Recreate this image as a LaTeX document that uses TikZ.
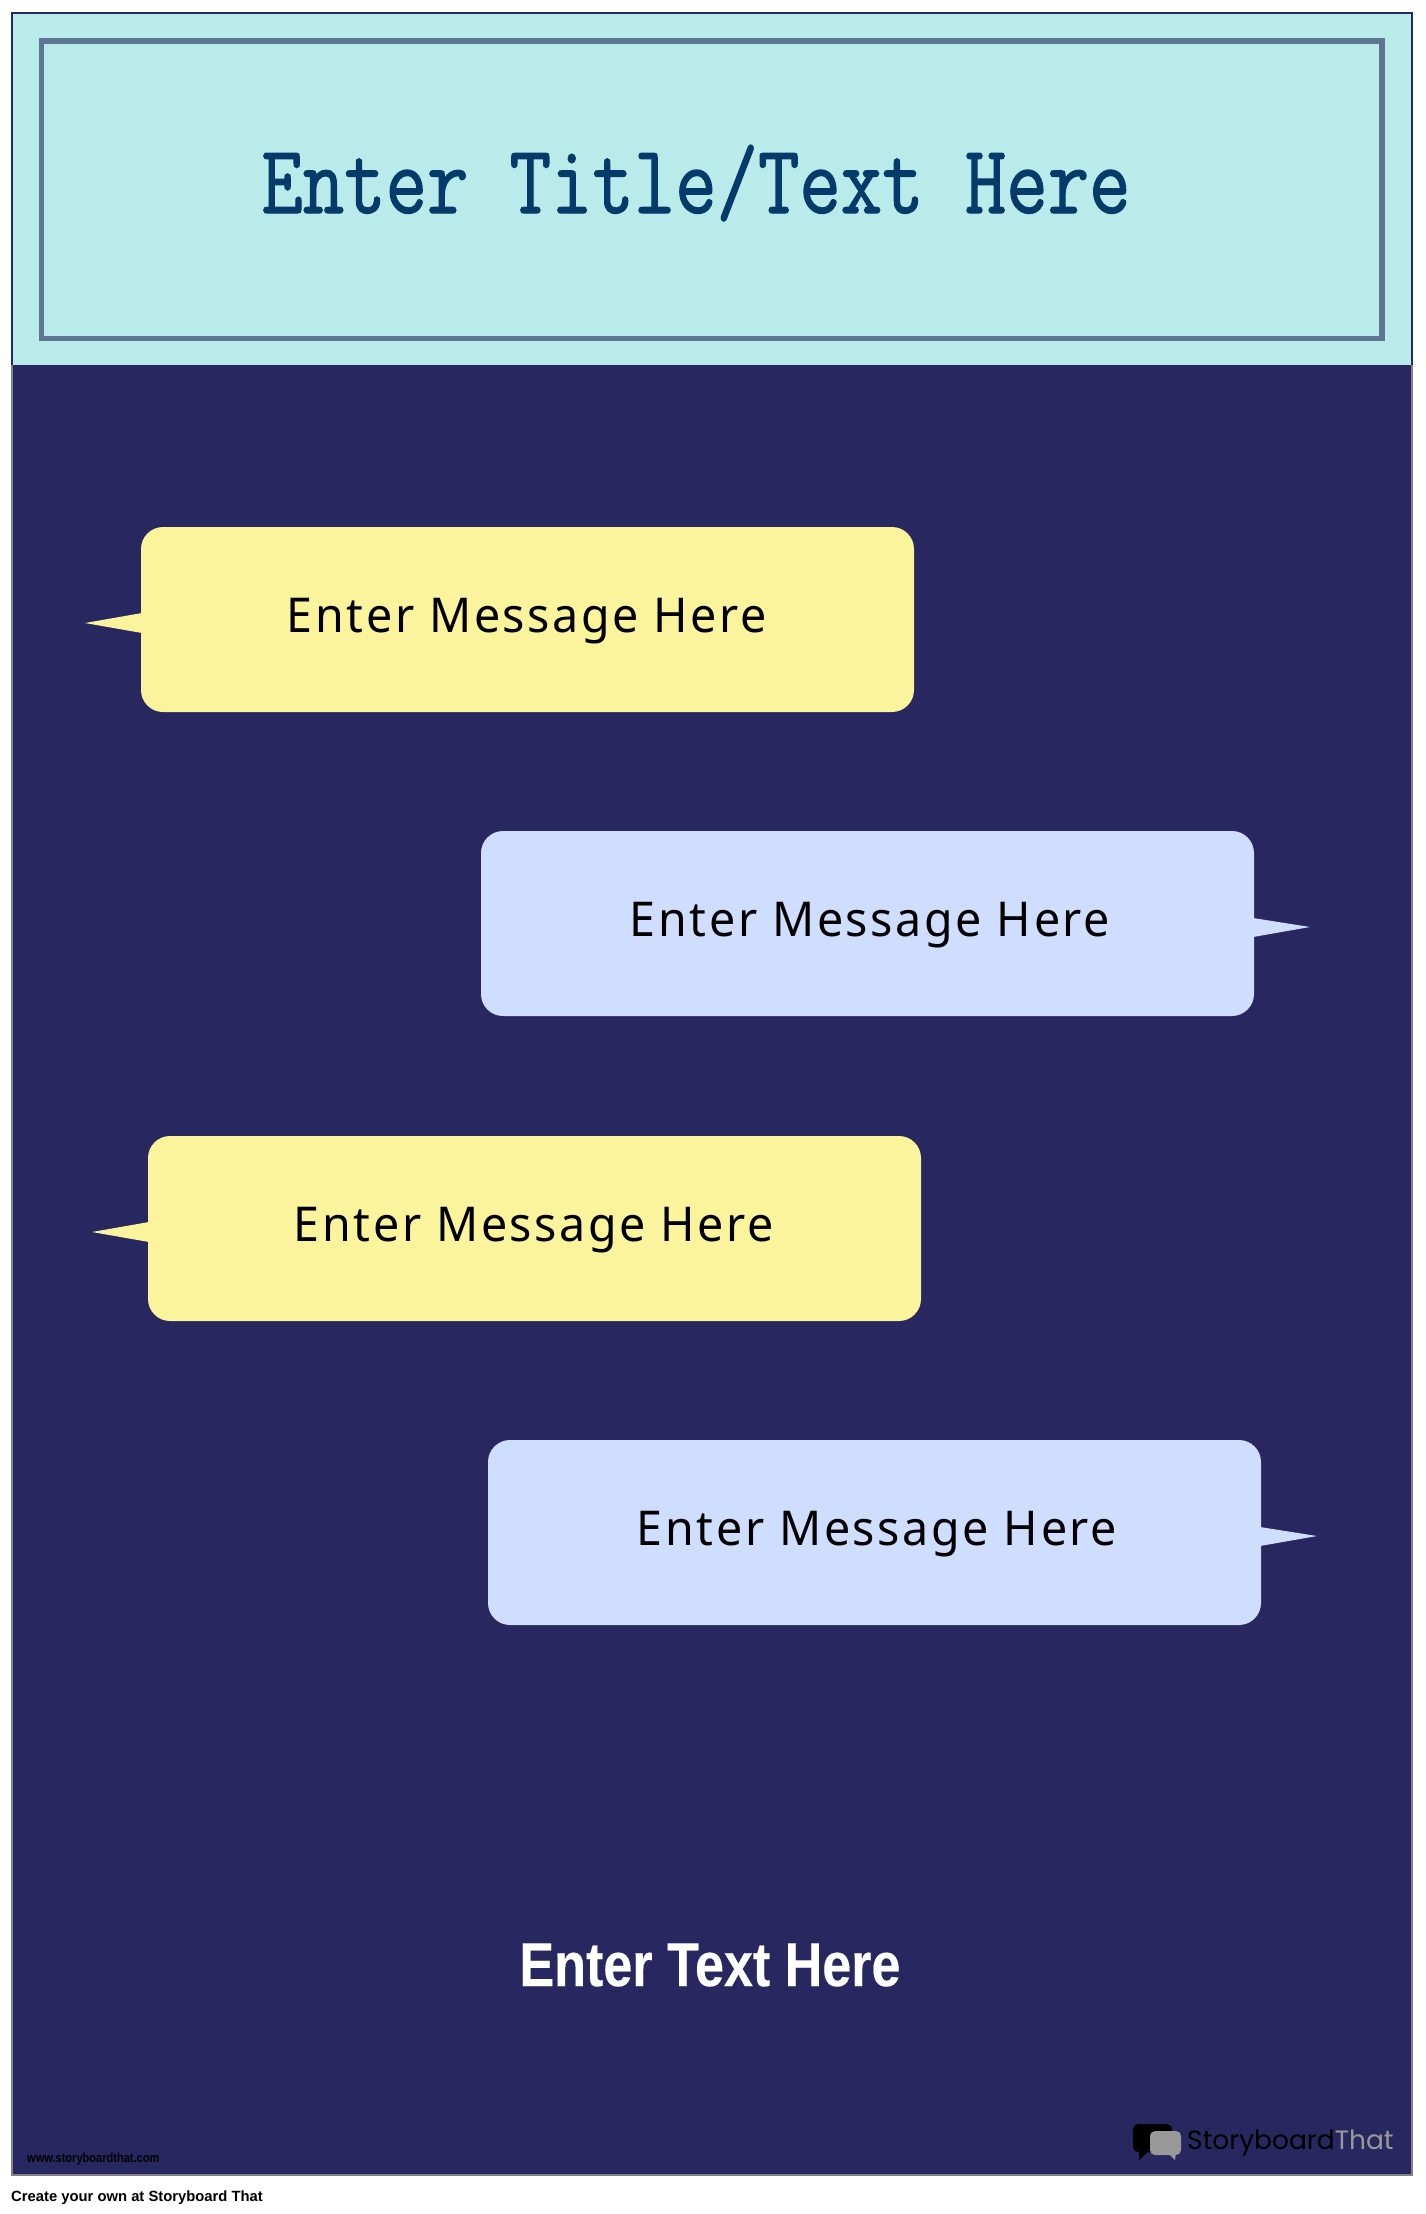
\documentclass[tikz,border=0pt]{standalone}
\usepackage{fontspec}
\setmainfont{Liberation Sans}
\newfontfamily\titlefont[FakeStretch=0.82,FakeBold=1.2]{Latin Modern Mono}
\newfontfamily\msgfont[LetterSpace=5.5,FakeStretch=0.97]{Noto Sans}
\newfontfamily\bottomfont[FakeStretch=0.84,FakeBold=0.3]{Liberation Sans Bold}
\newfontfamily\logofont{Poppins}
\newfontfamily\wwwfont[FakeStretch=0.85]{Liberation Sans Bold}
\definecolor{panel}{HTML}{B8EBE9}
\definecolor{navy}{HTML}{28275F}
\definecolor{frameblue}{HTML}{5F7594}
\definecolor{edgegray}{HTML}{808088}
\definecolor{titleblue}{HTML}{053A6B}
\definecolor{bubbleyellow}{HTML}{FCF39D}
\definecolor{bubbleblue}{HTML}{CFDEFF}
\definecolor{logogray}{HTML}{999999}
\tikzset{
  msgtext/.style={inner sep=0pt,anchor=base,text=black,font=\msgfont\fontsize{48}{48}\selectfont},
  plaintext/.style={inner sep=0pt}
}
\newcommand{\leftbubble}[5]{% name, left, top, colour, text
  \fill[#4,rounded corners=22pt] (#2,#3) rectangle ++(773,185);
  \fill[#4] (#2+1,#3+86) -- (#2-56,#3+96) -- (#2+1,#3+106) -- cycle;
  \node[msgtext] (#1) at (#2+386,#3+105) {#5};
}
\newcommand{\rightbubble}[5]{%
  \fill[#4,rounded corners=22pt] (#2,#3) rectangle ++(773,185);
  \fill[#4] (#2+772,#3+87) -- (#2+829,#3+96) -- (#2+772,#3+106) -- cycle;
  \node[msgtext] (#1) at (#2+389,#3+105) {#5};
}
\begin{document}
\begin{tikzpicture}[x=1pt,y=-1pt]
\useasboundingbox[fill=white] (0,0) rectangle (1425,2214);
\fill[navy] (12,365) rectangle (1412,2175);
\fill[panel] (12,13) rectangle (1412,365);
\draw[edgegray,line width=2pt] (12,365) -- (12,2175) -- (1412,2175) -- (1412,365);
\draw[navy,line width=2pt] (12,365) -- (12,13) -- (1412,13) -- (1412,365);
\draw[frameblue,line width=5.5pt] (41.5,41) rectangle (1382,338.5);
\node[plaintext,text=titleblue,font=\titlefont\fontsize{98}{98}\selectfont,anchor=base] (title) at (696,213) {Enter Title/Text Here};
\leftbubble{m1}{141}{527}{bubbleyellow}{Enter Message Here}
\rightbubble{m2}{481}{831}{bubbleblue}{Enter Message Here}
\leftbubble{m3}{148}{1136}{bubbleyellow}{Enter Message Here}
\rightbubble{m4}{488}{1440}{bubbleblue}{Enter Message Here}
\node[plaintext,text=white,font=\bottomfont\fontsize{62}{62}\selectfont,anchor=base] (bottom) at (710,1986) {Enter Text Here};
% logo
\fill[black,rounded corners=5pt] (1133,2124) rectangle (1172,2152);
\fill[black] (1139,2150) -- (1139,2160) -- (1150,2150) -- cycle;
\fill[logogray,rounded corners=5pt] (1150,2131) rectangle (1181,2155);
\fill[logogray] (1168,2153) -- (1175,2160) -- (1176,2153) -- cycle;
\node[plaintext,anchor=base west,font=\logofont\fontsize{26.5}{27}\selectfont] (logo) at (1187,2149) {\textcolor{black}{Storyboard}\textcolor{logogray}{That}};
\node[plaintext,anchor=base west,text=black,font=\wwwfont\fontsize{13}{13}\selectfont] (www) at (27,2162) {www.storyboardthat.com};
\node[plaintext,anchor=base west,text=black,font=\bfseries\fontsize{14.8}{16}\selectfont] (create) at (11,2201) {Create your own at Storyboard That};
\end{tikzpicture}
\end{document}
